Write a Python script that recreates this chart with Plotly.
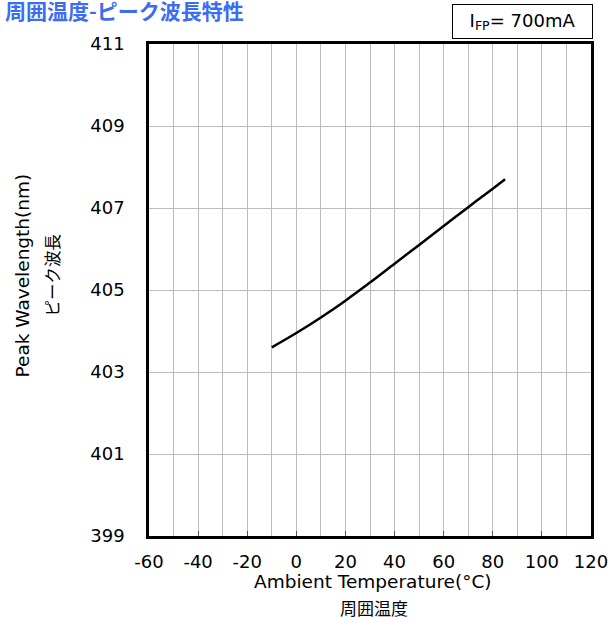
import plotly.graph_objects as go

# Data
temperature = [-10, 0, 10, 20, 30, 40, 50, 60, 70, 80, 85]
wavelength = [403.60, 403.95, 404.33, 404.74, 405.18, 405.64, 406.10, 406.56, 407.02, 407.47, 407.70]

x_ticks = [-60, -40, -20, 0, 20, 40, 60, 80, 100, 120]
y_ticks = [399, 401, 403, 405, 407, 409, 411]

title_text = "周囲温度-ピーク波長特性"
x_title = "Ambient Temperature(°C)"
x_title_jp = "周囲温度"
y_title = "Peak Wavelength(nm)"
y_title_jp = "ピーク波長"
cond_text = "I<sub>FP</sub>= 700mA"

FONT = "DejaVu Sans"
JP = "Noto Sans CJK JP"

fig = go.Figure()
fig.add_trace(go.Scatter(
    x=temperature, y=wavelength, mode="lines",
    line=dict(color="black", width=2.5, shape="spline", smoothing=1),
    showlegend=False, hoverinfo="skip",
))

grid = "#bdbdbd"
fig.update_layout(
    width=608, height=618,
    margin=dict(l=149, r=17, t=44, b=82),
    paper_bgcolor="white", plot_bgcolor="white",
    font=dict(family=FONT, size=18, color="black"),
    xaxis=dict(
        range=[-60, 120], tickvals=x_ticks, ticktext=[str(v) for v in x_ticks],
        showgrid=True, gridcolor=grid, gridwidth=1,
        minor=dict(dtick=10, tick0=-60, showgrid=True, gridcolor=grid, gridwidth=1),
        showline=True, linecolor="black", linewidth=2.5, mirror=True,
        ticks="inside", ticklen=5, tickcolor="#555555", tickwidth=1,
        ticklabelstandoff=8, ticklabeloverflow="allow", automargin=False,
        tickfont=dict(family=FONT, size=18, color="black"),
        zeroline=False,
    ),
    yaxis=dict(
        range=[399, 411], tickvals=y_ticks, ticktext=[str(v) for v in y_ticks],
        showgrid=True, gridcolor=grid, gridwidth=1,
        showline=True, linecolor="black", linewidth=2.5, mirror=True,
        ticks="", ticklabelstandoff=18, ticklabeloverflow="allow", automargin=False,
        tickfont=dict(family=FONT, size=18, color="black"),
        zeroline=False,
    ),
)

annotations = [
    dict(text="<b>" + title_text + "</b>", xref="paper", yref="paper",
         x=-146/442, y=1 + 34/491, xanchor="left", yanchor="middle",
         showarrow=False, font=dict(family=JP, size=21, color="#3a6cf4")),
    dict(text=x_title, xref="paper", yref="paper",
         x=(373 - 149) / 442, y=-45/491, xanchor="center", yanchor="middle",
         showarrow=False, font=dict(family=FONT, size=18.5, color="black")),
    dict(text=x_title_jp, xref="paper", yref="paper",
         x=(374 - 149) / 442, y=-71/491, xanchor="center", yanchor="middle",
         showarrow=False, font=dict(family=JP, size=17, color="black")),
    dict(text=y_title, xref="paper", yref="paper", textangle=-90,
         x=-127/442, y=(535 - 275) / 491, xanchor="center", yanchor="middle",
         showarrow=False, font=dict(family=FONT, size=18.5, color="black")),
    dict(text=y_title_jp, xref="paper", yref="paper", textangle=-90,
         x=-97/442, y=(535 - 275) / 491, xanchor="center", yanchor="middle",
         showarrow=False, font=dict(family=JP, size=16.5, color="black")),
    dict(text=cond_text, xref="paper", yref="paper",
         x=1 + 2/442, y=1 + 5/491, xanchor="right", yanchor="bottom",
         showarrow=False, font=dict(family=FONT, size=18, color="black"),
         bordercolor="black", borderwidth=1, borderpad=1,
         width=137, height=31, align="center", valign="middle"),
]
fig.update_layout(annotations=annotations)

fig.write_html(
    "out.html",
    config={"displayModeBar": False},
    post_script="document.body.style.margin='0';document.body.style.overflow='hidden';",
)
